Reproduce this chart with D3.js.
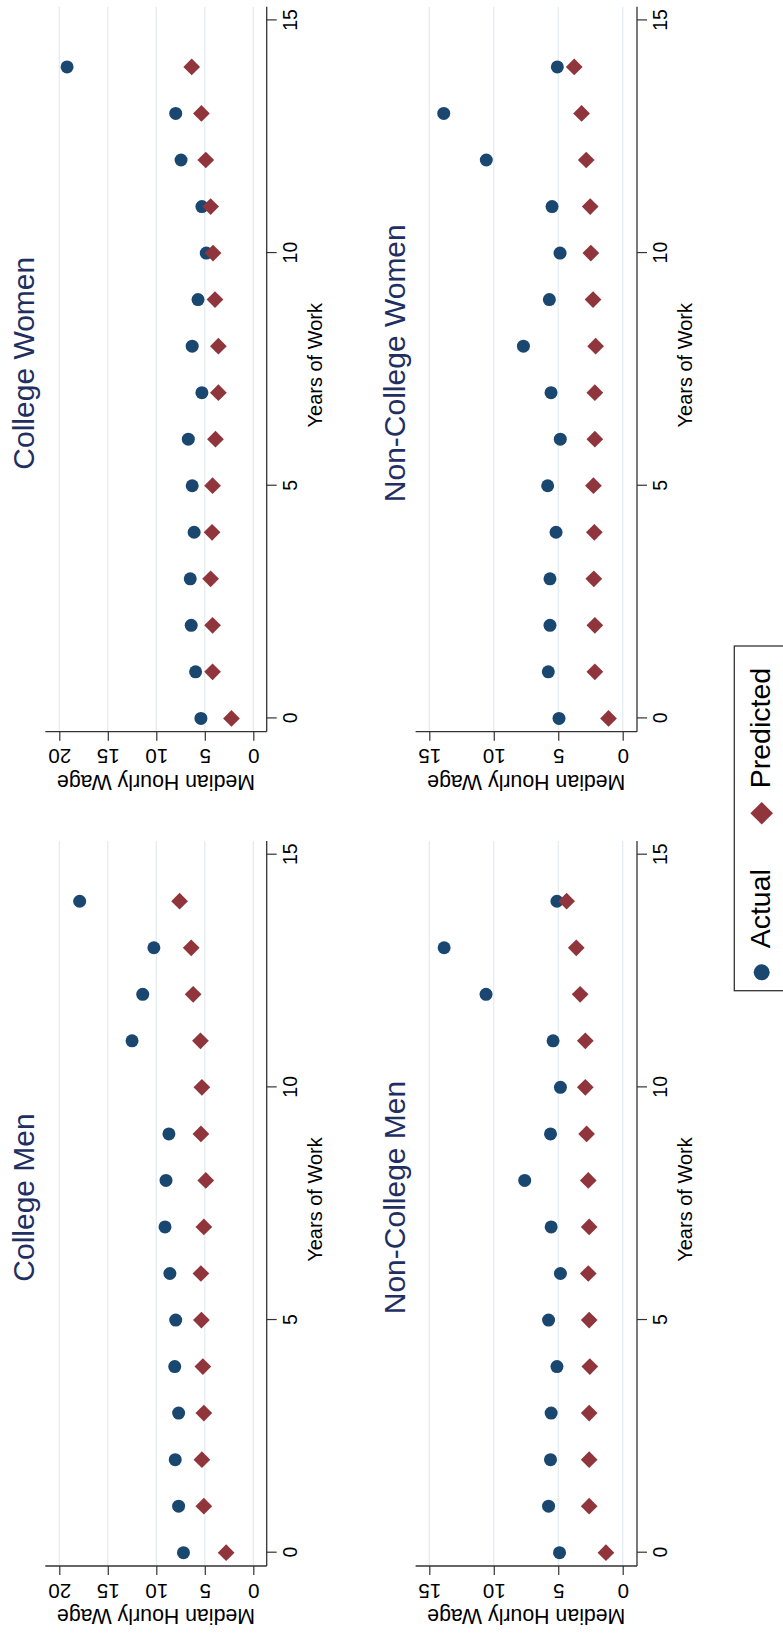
<!DOCTYPE html>
<html>
<head>
<meta charset="utf-8">
<script src="https://cdn.jsdelivr.net/npm/d3@7"></script>
<style>
  html, body { margin: 0; padding: 0; background: #fff; }
  svg { display: block; }
  text { font-family: "Liberation Sans", Arial, Helvetica, sans-serif; }
</style>
</head>
<body>
<div id="chart"></div>
<script>
// ---------------- data ----------------
const years = [0, 1, 2, 3, 4, 5, 6, 7, 8, 9, 10, 11, 12, 13, 14];
const yearTicks = [0, 5, 10, 15];

const collegeMenActual    = [7.2, 7.7, 8.05, 7.7, 8.1, 8.0, 8.6, 9.1, 9.0, 8.7, null, 12.5, 11.4, 10.25, 17.9];
const collegeMenPredicted = [2.8, 5.1, 5.3, 5.1, 5.2, 5.35, 5.4, 5.1, 4.9, 5.4, 5.3, 5.45, 6.2, 6.4, 7.6];

const collegeWomenActual    = [5.4, 5.95, 6.4, 6.5, 6.1, 6.3, 6.7, 5.3, 6.3, 5.7, 4.85, 5.3, 7.45, 8.0, 19.2];
const collegeWomenPredicted = [2.25, 4.2, 4.2, 4.4, 4.25, 4.2, 3.9, 3.6, 3.6, 3.95, 4.15, 4.4, 4.9, 5.35, 6.35];

const nonCollegeMenActual    = [4.9, 5.75, 5.6, 5.55, 5.1, 5.75, 4.83, 5.55, 7.6, 5.6, 4.83, 5.4, 10.6, 13.85, 5.1];
const nonCollegeMenPredicted = [1.3, 2.6, 2.6, 2.6, 2.55, 2.6, 2.67, 2.6, 2.67, 2.8, 2.9, 2.9, 3.3, 3.6, 4.35];

const nonCollegeWomenActual    = [4.94, 5.77, 5.64, 5.64, 5.17, 5.82, 4.84, 5.56, 7.7, 5.69, 4.86, 5.48, 10.58, 13.88, 5.07];
const nonCollegeWomenPredicted = [1.1, 2.16, 2.16, 2.24, 2.2, 2.27, 2.16, 2.16, 2.1, 2.3, 2.47, 2.52, 2.83, 3.19, 3.76];

const wageTicksCollege = [0, 5, 10, 15, 20];
const wageTicksNonCollege = [0, 5, 10, 15];

const panelTitles = ["College Men", "College Women", "Non-College Men", "Non-College Women"];
const seriesNames = ["Actual", "Predicted"];
const xTitle = "Years of Work";
const yTitle = "Median Hourly Wage";

// ---------------- layout (landscape, then rotated) ----------------
const PAGE_W = 783, PAGE_H = 1634;
const colors = { actual: "#1a476f", predicted: "#90353b", title: "#1f2f62", axis: "#333333", grid: "#e1ebf0" };

const panels = [
  { title: panelTitles[0], actual: collegeMenActual, predicted: collegeMenPredicted, left: 68,    top: 45.3,  wmax: 20, wticks: wageTicksCollege },
  { title: panelTitles[1], actual: collegeWomenActual, predicted: collegeWomenPredicted, left: 902.3, top: 45.3,  wmax: 20, wticks: wageTicksCollege },
  { title: panelTitles[2], actual: nonCollegeMenActual, predicted: nonCollegeMenPredicted, left: 68,    top: 415.6, wmax: 15, wticks: wageTicksNonCollege },
  { title: panelTitles[3], actual: nonCollegeWomenActual, predicted: nonCollegeWomenPredicted, left: 902.3, top: 415.6, wmax: 15, wticks: wageTicksNonCollege }
];
const plotW = 725, plotH = 221.4;

const svg = d3.select("#chart").append("svg")
  .attr("width", PAGE_W).attr("height", PAGE_H);
svg.append("rect").attr("width", PAGE_W).attr("height", PAGE_H).attr("fill", "#fff");

// landscape canvas rotated 90deg counter-clockwise
const root = svg.append("g").attr("transform", `translate(0,${PAGE_H}) rotate(-90)`);

const diamond = d3.symbol().type(d3.symbolSquare).size(140);
const diamondLegend = d3.symbol().type(d3.symbolSquare).size(256);

panels.forEach(p => {
  const g = root.append("g");
  const right = p.left + plotW, bottom = p.top + plotH;
  const x = d3.scaleLinear().domain([0, 15]).range([p.left + 13.3, p.left + 711.3]);
  const y = d3.scaleLinear().domain([0, p.wmax])
    .range(p.wmax === 20 ? [p.top + 208, p.top + 14] : [p.top + 207.1, p.top + 13.7]);

  // grid
  g.selectAll("line.grid").data(p.wticks).enter().append("line")
    .attr("x1", p.left).attr("x2", right)
    .attr("y1", d => y(d)).attr("y2", d => y(d))
    .attr("stroke", colors.grid).attr("stroke-width", 1.2);

  // y axis (wage)
  const yAxis = d3.axisLeft(y).tickValues(p.wticks).tickSize(9).tickPadding(8).tickFormat(d3.format("d"));
  const ya = g.append("g").attr("transform", `translate(${p.left},0)`).call(yAxis);
  ya.select(".domain").attr("d", `M0,${p.top}V${bottom}`).attr("stroke", colors.axis).attr("stroke-width", 1.3);
  ya.selectAll(".tick line").attr("stroke", colors.axis).attr("stroke-width", 1.2);
  ya.selectAll(".tick text")
    .attr("x", null).attr("dy", null)
    .attr("transform", "translate(-17.5,0) rotate(-90)")
    .attr("text-anchor", "middle")
    .attr("font-size", 20.5).attr("fill", "#000");

  // x axis (years)
  const xAxis = d3.axisBottom(x).tickValues(yearTicks).tickSize(10).tickPadding(5).tickFormat(d3.format("d"));
  const xa = g.append("g").attr("transform", `translate(0,${bottom})`).call(xAxis);
  xa.select(".domain").attr("d", `M${p.left},0H${right}`).attr("stroke", colors.axis).attr("stroke-width", 1.3);
  xa.selectAll(".tick line").attr("stroke", colors.axis).attr("stroke-width", 1.2);
  xa.selectAll(".tick text").attr("y", 30).attr("dy", null)
    .attr("font-size", 19.5).attr("fill", "#000");

  // axis titles
  g.append("text")
    .attr("transform", `translate(${p.left - 43.3},${(p.top + bottom) / 2}) rotate(-90)`)
    .attr("text-anchor", "middle").attr("font-size", 21.3).attr("fill", "#000")
    .text(yTitle);
  g.append("text")
    .attr("x", (p.left + right) / 2 + 4).attr("y", bottom + 55)
    .attr("text-anchor", "middle").attr("font-size", 20).attr("fill", "#000")
    .text(xTitle);

  // panel title
  g.append("text")
    .attr("x", (p.left + right) / 2 + 6).attr("y", p.top - 11)
    .attr("text-anchor", "middle").attr("font-size", 30).attr("fill", colors.title)
    .text(p.title);

  // actual (circles)
  g.selectAll("circle.act").data(years.filter((yr, i) => p.actual[i] != null)).enter()
    .append("circle")
    .attr("cx", yr => x(yr)).attr("cy", yr => y(p.actual[years.indexOf(yr)]))
    .attr("r", 6.5).attr("fill", colors.actual);

  // predicted (diamonds)
  g.selectAll("path.pred").data(years).enter().append("path")
    .attr("d", diamond)
    .attr("transform", (yr, i) => `translate(${x(yr)},${y(p.predicted[i])}) rotate(45)`)
    .attr("fill", colors.predicted);
});

// legend
const lg = root.append("g");
lg.append("rect").attr("x", 643.3).attr("y", 734.3).attr("width", 344.7).attr("height", 80)
  .attr("fill", "#fff").attr("stroke", colors.axis).attr("stroke-width", 1.3);
lg.append("circle").attr("cx", 661.7).attr("cy", 761.7).attr("r", 8).attr("fill", colors.actual);
lg.append("text").attr("x", 685.7).attr("y", 770).attr("font-size", 28.5).attr("fill", "#000").text(seriesNames[0]);
lg.append("path").attr("d", diamondLegend).attr("transform", "translate(820.7,761.7) rotate(45)").attr("fill", colors.predicted);
lg.append("text").attr("x", 845.7).attr("y", 770).attr("font-size", 28.5).attr("fill", "#000").text(seriesNames[1]);
</script>
</body>
</html>
